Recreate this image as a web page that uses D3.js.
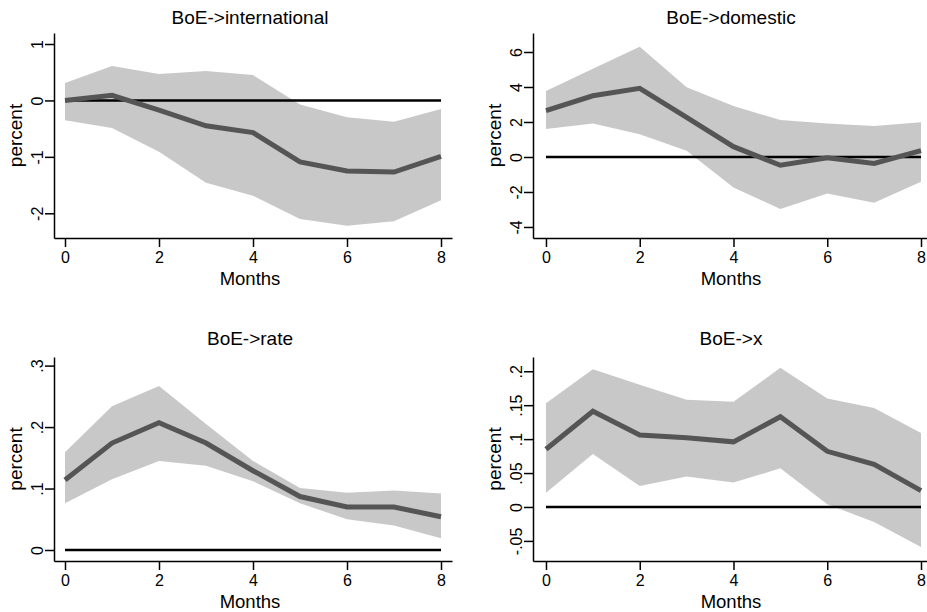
<!DOCTYPE html>
<html>
<head>
<meta charset="utf-8">
<script src="https://cdn.jsdelivr.net/npm/d3@7"></script>
<style>
  html, body { margin: 0; padding: 0; background: #fff; }
  svg { display: block; font-family: "Liberation Sans", Arial, Helvetica, sans-serif; }
</style>
</head>
<body>
<svg id="chart" width="927" height="612"></svg>
<script>
// ---- data ----
const months = [0, 1, 2, 3, 4, 5, 6, 7, 8];
const xTicks = [0, 2, 4, 6, 8];

const titles = ["BoE->international", "BoE->domestic", "BoE->rate", "BoE->x"];

const intlIrf = [0.0, 0.09, -0.17, -0.45, -0.57, -1.09, -1.25, -1.27, -0.99];
const intlLo  = [-0.35, -0.49, -0.91, -1.46, -1.69, -2.10, -2.22, -2.14, -1.77];
const intlHi  = [0.31, 0.61, 0.47, 0.52, 0.45, -0.07, -0.30, -0.38, -0.15];
const intlTicks = [-2, -1, 0, 1];
const intlTickLabels = ["-2", "-1", "0", "1"];

const domIrf = [2.65, 3.50, 3.92, 2.27, 0.59, -0.47, -0.05, -0.37, 0.36];
const domLo  = [1.60, 1.92, 1.30, 0.36, -1.75, -2.97, -2.08, -2.61, -1.41];
const domHi  = [3.77, 5.05, 6.30, 3.98, 2.91, 2.11, 1.92, 1.77, 1.98];
const domTicks = [-4, -2, 0, 2, 4, 6];
const domTickLabels = ["-4", "-2", "0", "2", "4", "6"];

const rateIrf = [0.114, 0.174, 0.207, 0.174, 0.129, 0.087, 0.070, 0.070, 0.054];
const rateLo  = [0.076, 0.115, 0.145, 0.137, 0.112, 0.076, 0.050, 0.040, 0.019];
const rateHi  = [0.159, 0.234, 0.267, 0.205, 0.145, 0.101, 0.093, 0.097, 0.092];
const rateTicks = [0, 0.1, 0.2, 0.3];
const rateTickLabels = ["0", ".1", ".2", ".3"];

const xIrf = [0.085, 0.141, 0.106, 0.102, 0.096, 0.133, 0.082, 0.063, 0.024];
const xLo  = [0.021, 0.078, 0.031, 0.045, 0.036, 0.057, 0.004, -0.022, -0.059];
const xHi  = [0.153, 0.203, 0.180, 0.158, 0.155, 0.205, 0.160, 0.146, 0.109];
const xTicksY = [-0.05, 0, 0.05, 0.1, 0.15, 0.2];
const xTickLabels = ["-.05", "0", ".05", ".1", ".15", ".2"];

// ---- layout (positions only) ----
const panels = [
  { title: titles[0], irf: intlIrf, lo: intlLo, hi: intlHi, ticks: intlTicks, labels: intlTickLabels,
    yDom: [-2.438, 1.195], xDom: [-0.234, 8.234],
    left: 54, right: 452, top: 33, bottom: 238, cx: 250, ty: 24 },
  { title: titles[1], irf: domIrf, lo: domLo, hi: domHi, ticks: domTicks, labels: domTickLabels,
    yDom: [-4.63, 7.086], xDom: [-0.277, 8.128],
    left: 533, right: 927, top: 33, bottom: 238, cx: 731, ty: 24 },
  { title: titles[2], irf: rateIrf, lo: rateLo, hi: rateHi, ticks: rateTicks, labels: rateTickLabels,
    yDom: [-0.0179, 0.314], xDom: [-0.234, 8.234],
    left: 54, right: 452, top: 357, bottom: 561, cx: 250, ty: 345 },
  { title: titles[3], irf: xIrf, lo: xLo, hi: xHi, ticks: xTicksY, labels: xTickLabels,
    yDom: [-0.0796, 0.221], xDom: [-0.277, 8.128],
    left: 533, right: 927, top: 357, bottom: 561, cx: 731, ty: 345 }
];

const svg = d3.select("#chart");

panels.forEach(p => {
  const g = svg.append("g");
  const x = d3.scaleLinear().domain(p.xDom).range([p.left, p.right]);
  const y = d3.scaleLinear().domain(p.yDom).range([p.bottom, p.top]);

  const rows = months.map((m, i) => ({ m, v: p.irf[i], lo: p.lo[i], hi: p.hi[i] }));

  // band
  g.append("path")
    .datum(rows)
    .attr("d", d3.area().x(d => x(d.m)).y0(d => y(d.lo)).y1(d => y(d.hi)))
    .attr("fill", "#c8c8c8")
    .attr("stroke", "none");

  // zero line
  g.append("line")
    .attr("x1", x(months[0])).attr("x2", x(months[months.length - 1]))
    .attr("y1", y(0)).attr("y2", y(0))
    .attr("stroke", "#000").attr("stroke-width", 2.6);

  // irf line
  g.append("path")
    .datum(rows)
    .attr("d", d3.line().x(d => x(d.m)).y(d => y(d.v)))
    .attr("fill", "none")
    .attr("stroke", "#555555")
    .attr("stroke-width", 5);

  // y axis
  const ya = g.append("g")
    .attr("transform", `translate(${p.left},0)`)
    .call(d3.axisLeft(y).tickValues(p.ticks).tickFormat((d, i) => p.labels[i]).tickSize(9).tickSizeOuter(0));
  ya.select(".domain").attr("stroke", "#000").attr("stroke-width", 1.5);
  ya.selectAll(".tick line").attr("stroke", "#000").attr("stroke-width", 1.5);
  ya.selectAll(".tick text")
    .attr("x", 0).attr("y", -11).attr("dy", null)
    .attr("transform", "rotate(-90)")
    .attr("text-anchor", "middle")
    .attr("fill", "#000")
    .style("font-size", "16px")
    .style("font-family", "'Liberation Sans', Arial, sans-serif");

  // x axis
  const xa = g.append("g")
    .attr("transform", `translate(0,${p.bottom})`)
    .call(d3.axisBottom(x).tickValues(xTicks).tickFormat(d3.format("d")).tickSize(9).tickSizeOuter(0));
  xa.select(".domain").attr("stroke", "#000").attr("stroke-width", 1.5);
  xa.selectAll(".tick line").attr("stroke", "#000").attr("stroke-width", 1.5);
  xa.selectAll(".tick text")
    .attr("y", 25).attr("dy", null)
    .attr("fill", "#000")
    .style("font-size", "16px")
    .style("font-family", "'Liberation Sans', Arial, sans-serif");

  // title
  g.append("text")
    .attr("x", p.cx).attr("y", p.ty)
    .attr("text-anchor", "middle")
    .style("font-size", "19px")
    .text(p.title);

  // x title
  g.append("text")
    .attr("x", p.cx).attr("y", p.bottom + 47)
    .attr("text-anchor", "middle")
    .style("font-size", "18.5px")
    .text("Months");

  // y title
  g.append("text")
    .attr("transform", `translate(${p.left - 32},${(p.top + p.bottom) / 2}) rotate(-90)`)
    .attr("text-anchor", "middle")
    .style("font-size", "19px")
    .text("percent");
});
</script>
</body>
</html>
